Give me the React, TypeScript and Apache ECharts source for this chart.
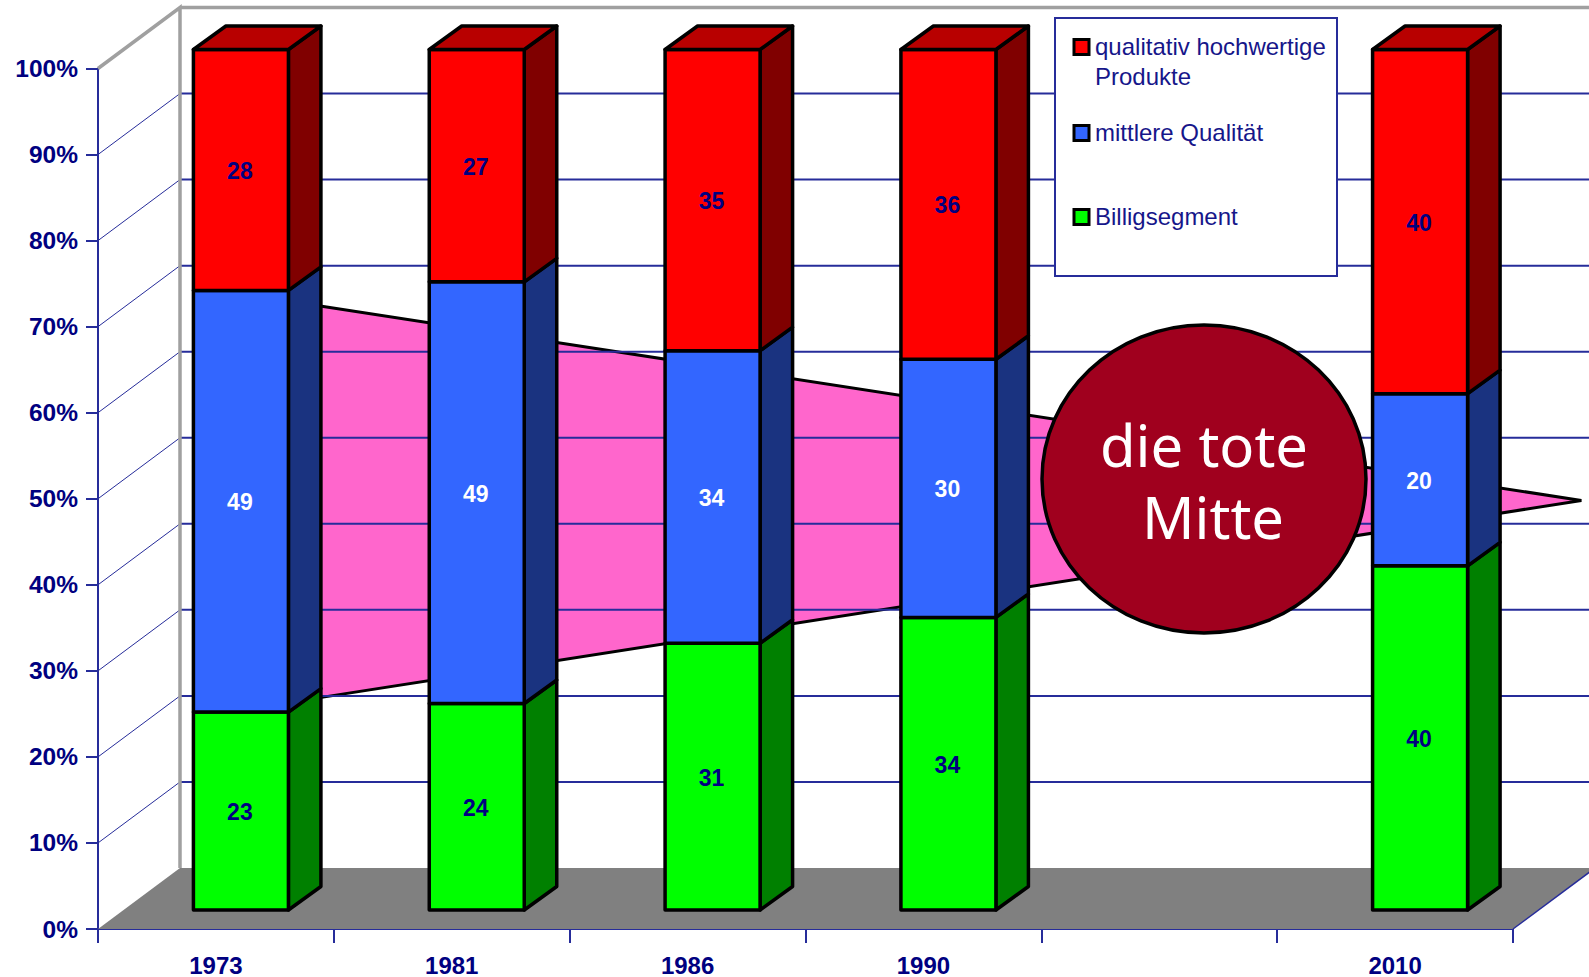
import React, { useEffect, useRef } from "react";
import * as echarts from "echarts";

// Share of each market segment per year, in percent
const categories = ["1973", "1981", "1986", "1990", "", "2010"];
const years = ["1973", "1981", "1986", "1990", "2010"];
const billig = [23, 24, 31, 34, 40];
const mittel = [49, 49, 34, 30, 20];
const hochwertig = [28, 27, 35, 36, 40];
const legendLabels = ["qualitativ hochwertige\nProdukte", "mittlere Qualität", "Billigsegment"];
const gridValues = [10, 20, 30, 40, 50, 60, 70, 80, 90];

// The wedge behind the bars, as [category position, percent]
const wedge = [
  [0.373, 72.7],
  [5.79, 49.8],
  [0.373, 26.6],
];

const NAVY = "#000080";
const GRID_BLUE = "#262c9a";
const WALL_GREY = "#a0a0a0";
const FLOOR_GREY = "#808080";
const SANS = '"Liberation Sans", Arial, sans-serif';

// Pseudo-3D projection, in pixels
const DEPTH_X = 82;
const DEPTH_Y = -61;
const BAR_SHIFT_X = 25;
const BAR_SHIFT_Y = -19;
const BAR_DEPTH_X = 32.5;
const BAR_DEPTH_Y = -23.5;
const BAR_WIDTH = 95;

const segments = [
  { name: "Billigsegment", values: billig, front: "#00ff00", side: "#008000", label: NAVY, base: () => 0 },
  { name: "mittlere Qualität", values: mittel, front: "#3366ff", side: "#1a3380", label: "#ffffff", base: (i: number) => billig[i] },
  { name: "qualitativ hochwertige Produkte", values: hochwertig, front: "#ff0000", side: "#800000", label: NAVY, base: (i: number) => billig[i] + mittel[i] },
];

const TOP_RED = "#b80000";

function renderBackdrop(_params: any, api: any) {
  const band = api.size([1, 0])[0];
  const [cx, y0] = api.coord([0, 0]);
  const left = cx - band / 2;
  const right = left + categories.length * band;
  const yOf = (v: number) => api.coord([0, v])[1];
  const far = right + DEPTH_X;
  const children: any[] = [];

  children.push({
    type: "polygon",
    shape: { points: [[left, y0], [left + DEPTH_X, y0 + DEPTH_Y], [far, y0 + DEPTH_Y], [right, y0]] },
    style: { fill: FLOOR_GREY },
  });

  // Category positions are fractional here, so they are scaled by the band width
  children.push({
    type: "polygon",
    shape: {
      points: wedge.map(([pos, pct]) => [cx + pos * band, yOf(pct)]),
    },
    style: { fill: "#ff66cc", stroke: "#000000", lineWidth: 3, lineJoin: "miter" },
  });

  gridValues.forEach((v) => {
    const y = yOf(v);
    children.push({
      type: "line",
      shape: { x1: left, y1: y, x2: left + DEPTH_X, y2: y + DEPTH_Y },
      style: { stroke: GRID_BLUE, lineWidth: 1 },
    });
    children.push({
      type: "line",
      shape: { x1: left + DEPTH_X, y1: y + DEPTH_Y, x2: far, y2: y + DEPTH_Y },
      style: { stroke: GRID_BLUE, lineWidth: 2 },
    });
  });

  const yTop = yOf(100);
  children.push({
    type: "polyline",
    shape: { points: [[left, yTop], [left + DEPTH_X, yTop + DEPTH_Y], [left + DEPTH_X, y0 + DEPTH_Y]] },
    style: { stroke: WALL_GREY, lineWidth: 3.5, fill: "none" },
  });
  children.push({
    type: "line",
    shape: { x1: left + DEPTH_X, y1: yTop + DEPTH_Y, x2: far, y2: yTop + DEPTH_Y },
    style: { stroke: WALL_GREY, lineWidth: 3.5 },
  });
  children.push({
    type: "line",
    shape: { x1: right, y1: y0, x2: far, y2: y0 + DEPTH_Y },
    style: { stroke: GRID_BLUE, lineWidth: 1.5 },
  });

  return { type: "group", silent: true, children };
}

function makeBarRenderer(seg: (typeof segments)[number], isTop: boolean) {
  return (_params: any, api: any) => {
    const pos = api.value(0);
    const start = api.value(1);
    const value = api.value(2);
    const low = api.coord([pos, start]);
    const high = api.coord([pos, start + value]);
    const x0 = low[0] + BAR_SHIFT_X - BAR_WIDTH / 2;
    const x1 = x0 + BAR_WIDTH;
    const yb = low[1] + BAR_SHIFT_Y;
    const yt = high[1] + BAR_SHIFT_Y;
    const edge = { stroke: "#000000", lineWidth: 3.5, lineJoin: "round" };

    const children: any[] = [
      {
        type: "polygon",
        shape: {
          points: [[x1, yb], [x1 + BAR_DEPTH_X, yb + BAR_DEPTH_Y], [x1 + BAR_DEPTH_X, yt + BAR_DEPTH_Y], [x1, yt]],
        },
        style: { fill: seg.side, ...edge },
      },
      {
        type: "polygon",
        shape: { points: [[x0, yb], [x1, yb], [x1, yt], [x0, yt]] },
        style: { fill: seg.front, ...edge },
      },
    ];
    if (isTop) {
      children.push({
        type: "polygon",
        shape: {
          points: [[x0, yt], [x1, yt], [x1 + BAR_DEPTH_X, yt + BAR_DEPTH_Y], [x0 + BAR_DEPTH_X, yt + BAR_DEPTH_Y]],
        },
        style: { fill: TOP_RED, ...edge },
      });
    }
    children.push({
      type: "text",
      style: {
        text: String(value),
        x: (x0 + x1) / 2 - 1,
        y: (yb + yt) / 2 + 1,
        fill: seg.label,
        font: `bold 23px ${SANS}`,
        align: "center",
        verticalAlign: "middle",
      },
    });
    return { type: "group", silent: true, children };
  };
}

function legendElements() {
  const box = { x: 1055, y: 18, w: 282, h: 258 };
  const rowY = [47, 133, 217];
  const swatches = ["#ff0000", "#3366ff", "#00ff00"];
  const els: any[] = [
    {
      type: "rect",
      z: 50,
      shape: { x: box.x, y: box.y, width: box.w, height: box.h },
      style: { fill: "#ffffff", stroke: GRID_BLUE, lineWidth: 2 },
    },
  ];
  legendLabels.forEach((label, i) => {
    els.push({
      type: "rect",
      z: 51,
      shape: { x: 1074, y: rowY[i] - 7.5, width: 15, height: 15 },
      style: { fill: swatches[i], stroke: "#000000", lineWidth: 3 },
    });
    els.push({
      type: "text",
      z: 51,
      x: 1095,
      y: rowY[i] - 15,
      style: {
        text: label,
        fill: "#16168a",
        font: `24px ${SANS}`,
        lineHeight: 29.5,
        align: "left",
        verticalAlign: "top",
      },
    });
  });
  return els;
}

function calloutElements() {
  const font = '58px "Noto Sans", sans-serif';
  return [
    {
      type: "ellipse",
      z: 60,
      shape: { cx: 1204, cy: 479, rx: 162, ry: 154 },
      style: { fill: "#a0001e", stroke: "#000000", lineWidth: 3.5 },
    },
    {
      type: "text",
      z: 61,
      x: 1204,
      y: 444,
      style: { text: "die tote", fill: "#ffffff", font, align: "center", verticalAlign: "middle" },
    },
    {
      type: "text",
      z: 61,
      x: 1213,
      y: 516,
      style: { text: "Mitte", fill: "#ffffff", font, align: "center", verticalAlign: "middle" },
    },
  ];
}

export default function App() {
  const ref = useRef<HTMLDivElement>(null);

  useEffect(() => {
    document.body.style.margin = "0";
    const chart = echarts.init(ref.current!, undefined, { renderer: "svg" });
    const axisText = { color: NAVY, fontFamily: SANS, fontWeight: "bold" as const, fontSize: 24 };

    chart.setOption({
      animation: false,
      backgroundColor: "#ffffff",
      grid: { left: 98, right: 76, top: 68.5, bottom: 45 },
      xAxis: {
        type: "category",
        data: categories,
        boundaryGap: true,
        axisLine: { lineStyle: { color: GRID_BLUE, width: 2 } },
        axisTick: { show: true, length: 14, interval: 0, alignWithLabel: false, lineStyle: { color: GRID_BLUE, width: 2 } },
        axisLabel: { ...axisText, interval: 0, margin: 24 },
        splitLine: { show: false },
      },
      yAxis: {
        type: "value",
        min: 0,
        max: 100,
        interval: 10,
        axisLine: { show: true, lineStyle: { color: GRID_BLUE, width: 2 } },
        axisTick: { show: true, length: 12, lineStyle: { color: GRID_BLUE, width: 2 } },
        axisLabel: { ...axisText, fontSize: 24.5, formatter: "{value}%", margin: 20 },
        splitLine: { show: false },
      },
      series: [
        {
          type: "custom",
          name: "Hintergrund",
          z: 1,
          clip: false,
          silent: true,
          data: [[0, 0]],
          encode: { x: 0, y: 1 },
          renderItem: renderBackdrop,
        },
        ...segments.map((seg, s) => ({
          type: "custom",
          name: seg.name,
          z: 3,
          clip: false,
          silent: true,
          data: years.map((year, i) => [categories.indexOf(year), seg.base(i), seg.values[i]]),
          encode: { x: 0, y: [1, 2] },
          renderItem: makeBarRenderer(seg, s === segments.length - 1),
        })),
      ],
      graphic: { elements: [...legendElements(), ...calloutElements()] },
    });

    return () => chart.dispose();
  }, []);

  return <div ref={ref} style={{ width: 1589, height: 977 }} />;
}
